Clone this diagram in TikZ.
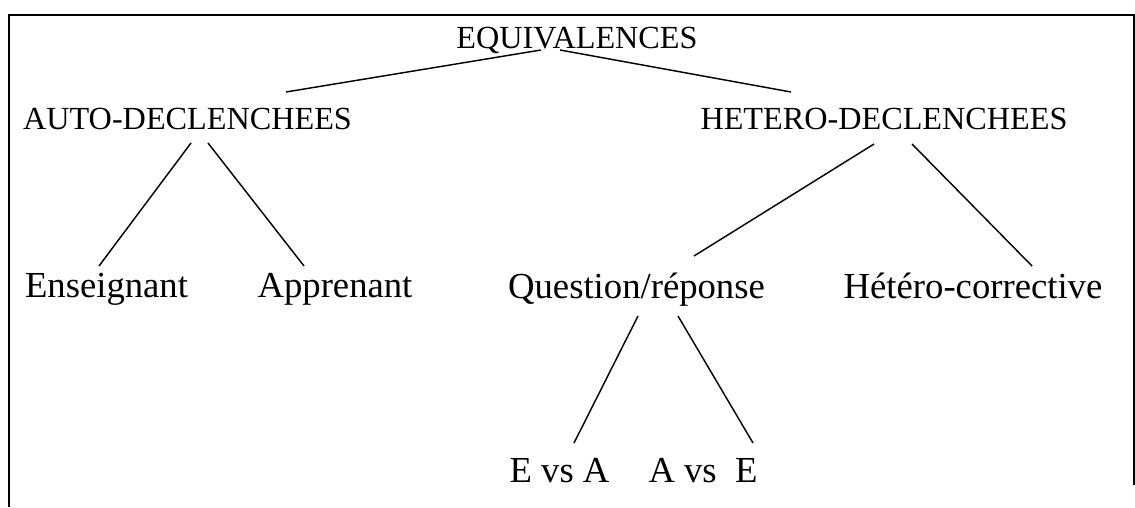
\documentclass[tikz,border=0pt]{standalone}
\usepackage{fontspec}
\setmainfont{Liberation Serif}
\usepackage{tikz}
\usetikzlibrary{positioning, calc}
\tikzset{
  category/.style={
    inner sep=0pt, anchor=base,
    font=\fontsize{12.3}{14}\selectfont,
  },
  leaf/.style={
    inner sep=0pt, anchor=base,
    font=\fontsize{14}{17}\selectfont,
  },
  branch/.style={line width=0.55pt, color=black},
  frame/.style={line width=0.75pt, color=black},
}
\begin{document}
\begin{tikzpicture}[x=0.38168pt,y=-0.38168pt]
  \useasboundingbox (0,0) rectangle (1135,507);
  \coordinate (ftl) at (9,15);
  \coordinate (ftr) at (1135,15);
  \coordinate (fbl) at (9,507);
  \coordinate (fbr) at (1134,485);
  \draw[frame] (fbl) -- (ftl) -- (ftr);
  \draw[frame] (1134,15) -- (fbr);
  \node[category] (equiv) at (577,48) {EQUIVALENCES};
  \node[category] (auto) at (187.5,129) {AUTO-DECLENCHEES};
  \node[category] (hetero) at (884,129) {HETERO-DECLENCHEES};
  \node[leaf] (ens) at (106.5,297) {Enseignant};
  \node[leaf] (app) at (335,297) {Apprenant};
  \node[leaf] (qr) at (636.5,298) {Question/réponse};
  \node[leaf] (corr) at (973,298) {Hétéro-corrective};
  \node[leaf] (eva) at (559.5,482) {E vs A};
  \node[leaf] (ave) at (703,482) {A vs~ E};
  \draw[branch] ($(equiv.base)+(-36,2)$) -- ($(auto.base)+(98.5,-37)$);
  \draw[branch] ($(equiv.base)+(-17,2)$) -- ($(hetero.base)+(-93,-37)$);
  \draw[branch] ($(auto.base)+(3.5,14)$) -- ($(ens.base)+(-7.5,-31)$);
  \draw[branch] ($(auto.base)+(20.5,14)$) -- ($(app.base)+(-31,-31)$);
  \draw[branch] ($(hetero.base)+(-10,15)$) -- ($(qr.base)+(57.5,-42)$);
  \draw[branch] ($(hetero.base)+(28,15)$) -- ($(corr.base)+(59,-32)$);
  \draw[branch] ($(qr.base)+(1.5,18)$) -- ($(eva.base)+(14.5,-39)$);
  \draw[branch] ($(qr.base)+(41.5,18)$) -- ($(ave.base)+(50,-39)$);
\end{tikzpicture}
\end{document}
